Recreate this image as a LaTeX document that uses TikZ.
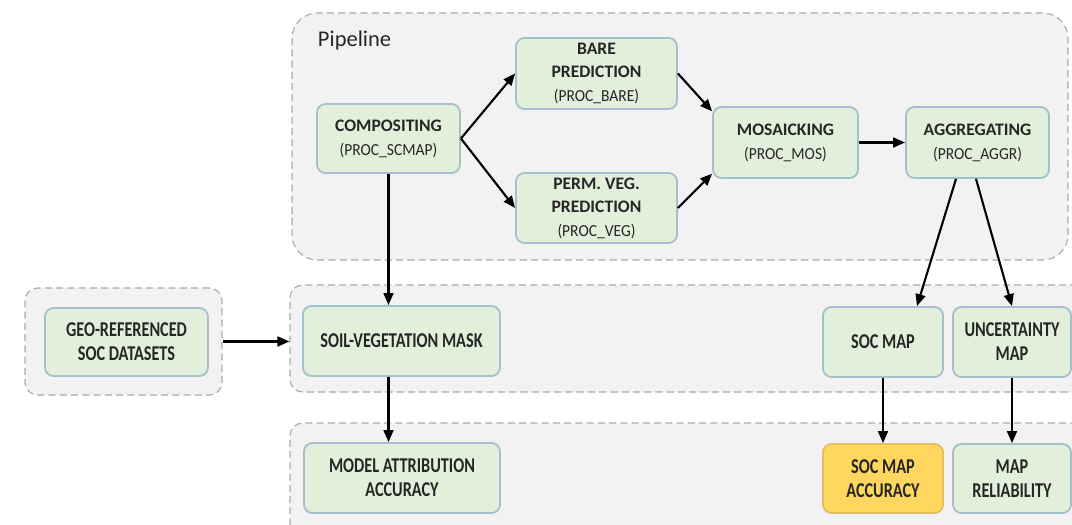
\documentclass[tikz,border=0pt]{standalone}
\usepackage{fontspec}
\setmainfont{Carlito}
\newfontfamily\narrowfont{Carlito}[FakeStretch=0.77]
\newfontfamily\subfont{Carlito}[FakeStretch=0.92]
\usetikzlibrary{calc,arrows.meta}
\definecolor{boxfill}{RGB}{226,239,218}
\definecolor{boxline}{RGB}{164,192,204}
\definecolor{groupfill}{RGB}{242,242,242}
\definecolor{groupline}{RGB}{170,170,170}
\definecolor{accfill}{RGB}{255,215,95}
\definecolor{accline}{RGB}{225,190,100}
\def\px{0.025cm}
\def\proc#1{\\[0.5pt]{\subfont\mdseries\fontsize{12}{12}\selectfont (#1)}}

\tikzset{
	box/.style={draw=boxline, fill=boxfill, line width=1.3pt, rounded corners=6pt, align=center, inner sep=0pt, text=black!85},
	stage/.style={box, font=\fontsize{12.5}{16.5}\selectfont\bfseries},
	result/.style={box, font=\narrowfont\fontsize{15}{17}\selectfont\bfseries},
	group/.style={draw=groupline, fill=groupfill, line width=0.8pt, dash pattern=on 5pt off 3pt, rounded corners=9pt, inner sep=0pt},
	flow/.style={-{Triangle[length=8.5pt,width=7pt]}, line width=1.5pt, black}
}

\begin{document}
\begin{tikzpicture}[x=\px, y=-\px]
			%%%%% START %%%%%
			\useasboundingbox (0,0) rectangle (1072,525);
			\clip (0,0) rectangle (1072,525);
			
			% groups
			\node[group, rounded corners=18pt, minimum width=776*\px, minimum height=247*\px] (pipegrp) at (680,136.5) {};
			\node[anchor=base west, font=\fontsize{16}{16}\selectfont, text=black!85] (pipelabel) at (313,47) {Pipeline};
			\node[group, minimum width=197*\px, minimum height=107*\px] (geogrp) at (123.5,341.5) {};
			\node[group, minimum width=800*\px, minimum height=107*\px] (midgrp) at (690,338.5) {};
			\node[group, minimum width=800*\px, minimum height=122*\px] (botgrp) at (690,484) {};
			
			% pipeline stages
			\node[stage, minimum width=143*\px, minimum height=69*\px] (comp) at (388.5,138.5) {COMPOSITING\proc{PROC\_SCMAP}};
			\node[stage, minimum width=161*\px, minimum height=71*\px] (bare) at (596.5,73.5) {BARE\\PREDICTION\proc{PROC\_BARE}};
			\node[stage, minimum width=161*\px, minimum height=70*\px] (veg) at (596.5,208) {PERM. VEG.\\PREDICTION\proc{PROC\_VEG}};
			\node[stage, minimum width=145*\px, minimum height=71*\px] (mos) at (785.5,142.5) {MOSAICKING\proc{PROC\_MOS}};
			\node[stage, minimum width=143*\px, minimum height=71*\px] (aggr) at (977.5,142.5) {AGGREGATING\proc{PROC\_AGGR}};
			
			% inputs and products
			\node[result, minimum width=163*\px, minimum height=68*\px] (geo) at (126.5,342) {GEO-REFERENCED\\SOC DATASETS};
			\node[result, minimum width=197*\px, minimum height=70*\px] (mask) at (401.5,341) {SOIL-VEGETATION MASK};
			\node[result, minimum width=120*\px, minimum height=70*\px] (socmap) at (883,342) {SOC MAP};
			\node[result, minimum width=118*\px, minimum height=70*\px] (unc) at (1012,342) {UNCERTAINTY\\MAP};
			
			% validation
			\node[result, minimum width=196*\px, minimum height=70*\px] (model) at (402,478) {MODEL ATTRIBUTION\\ACCURACY};
			\node[result, fill=accfill, draw=accline, minimum width=120*\px, minimum height=69*\px] (socacc) at (883,478.5) {SOC MAP\\ACCURACY};
			\node[result, minimum width=118*\px, minimum height=69*\px] (rel) at (1012,478.5) {MAP\\RELIABILITY};
			
			% connectors
			\draw[flow] (comp.east) -- (bare.west);
			\draw[flow] (comp.east) -- (veg.west);
			\draw[flow] (bare.east) -- (mos.157);
			\draw[flow] (veg.east) -- (mos.203);
			\draw[flow] (mos.east) -- (aggr.west);
			\draw[flow] ($(aggr.south)+(-21.5,0)$) -- ($(socmap.north)+(34,0)$);
			\draw[flow] ($(aggr.south)+(-1.5,0)$) -- (unc.north);
			\draw[flow] (comp.south) -- (comp.south |- mask.north);
			\draw[flow] (comp.south |- mask.south) -- (comp.south |- model.north);
			\draw[flow] (geogrp.east) -- (geogrp.east -| midgrp.west);
			\draw[flow] (socmap.south) -- (socacc.north);
			\draw[flow] (unc.south) -- (rel.north);
			
			%%%%% END %%%%%
\end{tikzpicture}
\end{document}
